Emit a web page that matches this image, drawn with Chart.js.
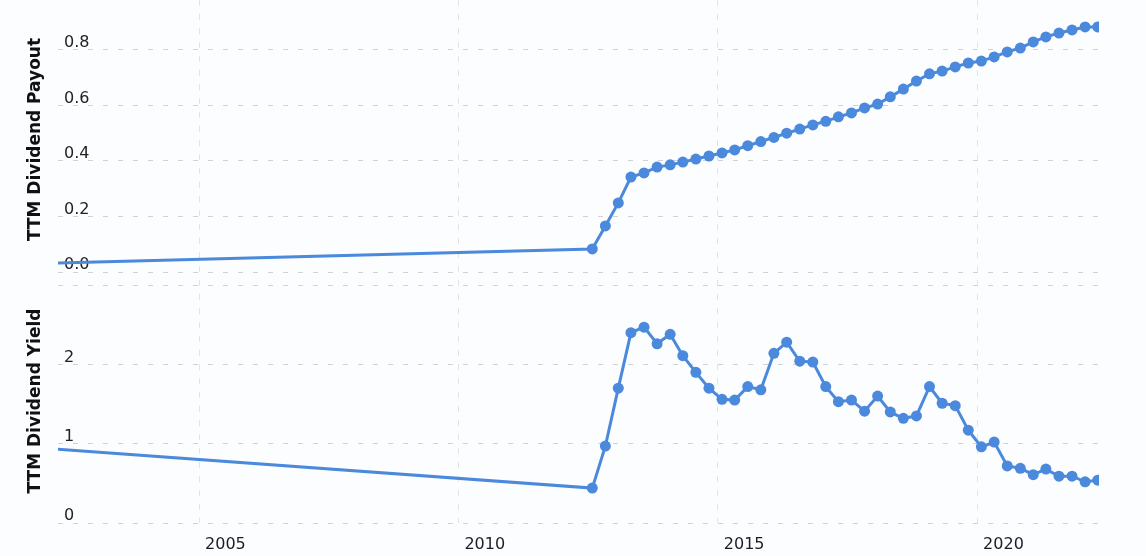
<!DOCTYPE html>
<html>
<head>
<meta charset="utf-8">
<script src="https://cdn.jsdelivr.net/npm/chart.js@4"></script>
<style>
  html, body { margin: 0; padding: 0; background: #fcfdfe; }
  #wrap { width: 1146px; height: 556px; position: relative; }
</style>
</head>
<body>
<div id="wrap"><canvas id="chart"></canvas></div>
<script>
// quarterly TTM dates (first one is where the line enters the plot)
const dates = [
  '2002-04-12',
  '2012-07-31', '2012-10-31', '2013-01-31', '2013-04-30', '2013-07-31', '2013-10-31',
  '2014-01-31', '2014-04-30', '2014-07-31', '2014-10-31', '2015-01-31', '2015-04-30',
  '2015-07-31', '2015-10-31', '2016-01-31', '2016-04-30', '2016-07-31', '2016-10-31',
  '2017-01-31', '2017-04-30', '2017-07-31', '2017-10-31', '2018-01-31', '2018-04-30',
  '2018-07-31', '2018-10-31', '2019-01-31', '2019-04-30', '2019-07-31', '2019-10-31',
  '2020-01-31', '2020-04-30', '2020-07-31', '2020-10-31', '2021-01-31', '2021-04-30',
  '2021-07-31', '2021-10-31', '2022-01-31', '2022-04-30'
];

const payout = [
  0.032,
  0.083, 0.166, 0.249, 0.342, 0.357, 0.378, 0.386, 0.396, 0.407, 0.418, 0.429, 0.440,
  0.455, 0.470, 0.485, 0.500, 0.515, 0.530, 0.543, 0.559, 0.573, 0.591, 0.605, 0.631,
  0.659, 0.688, 0.714, 0.724, 0.739, 0.753, 0.760, 0.775, 0.793, 0.807, 0.829, 0.847,
  0.861, 0.872, 0.883, 0.883
];

const yieldPct = [
  0.93,
  0.44, 0.97, 1.70, 2.40, 2.47, 2.26, 2.38, 2.11, 1.90, 1.70, 1.56, 1.55,
  1.72, 1.68, 2.14, 2.28, 2.04, 2.03, 1.72, 1.53, 1.55, 1.41, 1.60, 1.40,
  1.32, 1.35, 1.72, 1.51, 1.48, 1.17, 0.96, 1.02, 0.72, 0.69, 0.61, 0.68,
  0.59, 0.59, 0.52, 0.54
];

const yearTicks = [2005, 2010, 2015, 2020];
const payoutTicks = [0, 0.2, 0.4, 0.6, 0.8];
const yieldTicks = [0, 1, 2, 3];

function toYear(s) {
  const d = new Date(s + 'T00:00:00Z');
  const y = d.getUTCFullYear();
  const start = Date.UTC(y, 0, 1);
  return y + (d.getTime() - start) / (365 * 86400000);
}

const xs = dates.map(toYear);
const blue = '#4a89dc';
const gridColor = '#cfd2d6';
const tickFont = { family: 'DejaVu Sans', size: 16 };
const titleFont = { family: 'DejaVu Sans', size: 17, weight: 'bold' };

const lineStyle = {
  borderColor: blue,
  backgroundColor: blue,
  borderWidth: 3,
  pointBackgroundColor: blue,
  pointBorderWidth: 0,
  pointRadius: (ctx) => ctx.dataIndex === 0 ? 0 : 5.5,
  tension: 0,
  fill: false
};

// labels sit inside the plot, so drop the edge padding chart.js reserves for them
function noEdgePad(s) {
  s.paddingTop = 0;
  s.paddingBottom = 0;
  s.paddingLeft = 0;
  s.paddingRight = 0;
}

new Chart(document.getElementById('chart'), {
  type: 'line',
  data: {
    datasets: [
      Object.assign({
        label: 'TTM Dividend Payout',
        yAxisID: 'yPay',
        data: xs.map((x, i) => ({ x: x, y: payout[i] }))
      }, lineStyle),
      Object.assign({
        label: 'TTM Dividend Yield',
        yAxisID: 'yYield',
        data: xs.map((x, i) => ({ x: x, y: yieldPct[i] }))
      }, lineStyle)
    ]
  },
  options: {
    responsive: true,
    maintainAspectRatio: false,
    animation: false,
    layout: { autoPadding: false, padding: { left: 21, right: 47, top: 0, bottom: 0 } },
    plugins: { legend: { display: false }, tooltip: { enabled: false } },
    scales: {
      x: {
        type: 'linear',
        min: 2002.28,
        max: 2022.35,
        afterBuildTicks: (s) => { s.ticks = yearTicks.map(v => ({ value: v })); },
        afterFit: (s) => { s.height = 33; noEdgePad(s); },
        ticks: {
          align: 'start',
          labelOffset: 6,
          padding: 12,
          maxRotation: 0,
          autoSkip: false,
          color: '#1c1c28',
          font: tickFont,
          callback: (v) => String(v)
        },
        grid: { color: '#e2e4e8', drawTicks: false },
        border: { display: false, dash: [6, 8] }
      },
      yYield: {
        type: 'linear',
        position: 'left',
        stack: 'panels',
        stackWeight: 244,
        min: 0,
        max: 3.077,
        afterBuildTicks: (s) => { s.ticks = yieldTicks.map(v => ({ value: v })); },
        afterFit: (s) => { s.width = 37; noEdgePad(s); },
        ticks: {
          mirror: true,
          padding: 6,
          labelOffset: -7,
          color: '#222',
          font: tickFont,
          callback: (v) => v === 3 ? '' : String(v)
        },
        title: { display: true, text: 'TTM Dividend Yield', color: '#111', font: titleFont },
        grid: { color: gridColor, drawTicks: false },
        border: { display: false, dash: [5, 10] }
      },
      yPay: {
        type: 'linear',
        position: 'left',
        stack: 'panels',
        stackWeight: 279,
        min: -0.0252,
        max: 0.98,
        afterBuildTicks: (s) => { s.ticks = payoutTicks.map(v => ({ value: v })); },
        afterFit: (s) => { s.width = 37; noEdgePad(s); },
        ticks: {
          mirror: true,
          padding: 6,
          labelOffset: -7,
          color: '#222',
          font: tickFont,
          callback: (v) => Number(v).toFixed(1)
        },
        title: { display: true, text: 'TTM Dividend Payout', color: '#111', font: titleFont },
        grid: { color: gridColor, drawTicks: false },
        border: { display: false, dash: [5, 10] }
      }
    }
  }
});
</script>
</body>
</html>
